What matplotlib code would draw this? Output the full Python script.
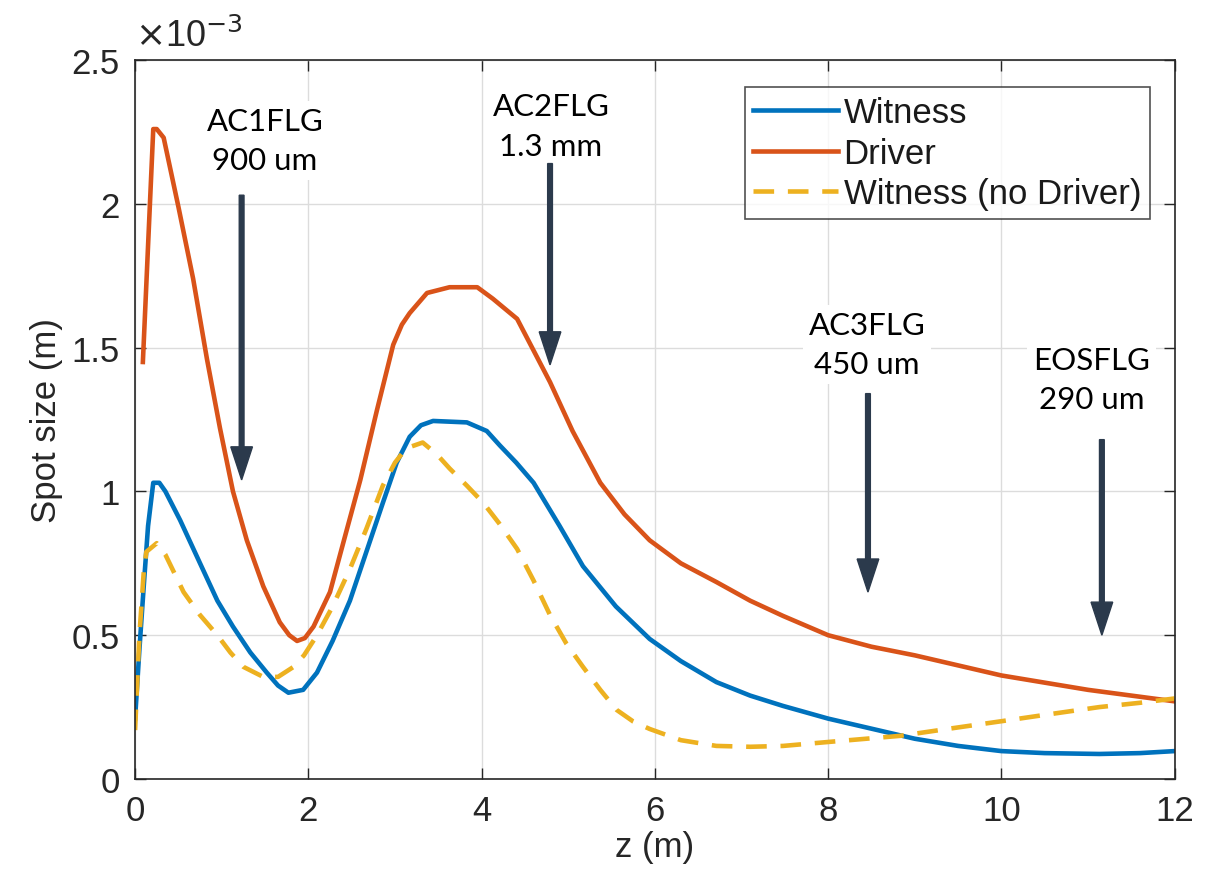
import matplotlib.pyplot as plt

# Spot size data (units of 1e-3 m)
z_witness = [0.0, 0.05, 0.1, 0.15, 0.21, 0.28, 0.35, 0.52, 0.75, 0.95, 1.13, 1.33, 1.52, 1.65, 1.77,
             1.94, 2.1, 2.28, 2.48, 2.67, 2.86, 3.02, 3.17, 3.3, 3.44, 3.83, 4.06, 4.21, 4.4, 4.6,
             4.9, 5.17, 5.55, 5.94, 6.3, 6.71, 7.1, 7.48, 8.0, 8.5, 9.0, 9.5, 10.0, 10.5, 11.13,
             11.6, 12.0]
witness = [0.21, 0.45, 0.67, 0.88, 1.03, 1.03, 1.0, 0.90, 0.75, 0.62, 0.53, 0.44, 0.37, 0.325, 0.30,
           0.31, 0.37, 0.48, 0.62, 0.79, 0.96, 1.10, 1.19, 1.23, 1.245, 1.24, 1.21, 1.16, 1.10, 1.03,
           0.88, 0.74, 0.60, 0.487, 0.41, 0.337, 0.29, 0.254, 0.21, 0.175, 0.14, 0.115, 0.097, 0.09, 0.087,
           0.09, 0.097]

z_driver = [0.09, 0.21, 0.25, 0.33, 0.5, 0.67, 0.83, 0.98, 1.13, 1.29, 1.48, 1.67, 1.78, 1.87, 1.96,
            2.06, 2.25, 2.42, 2.6, 2.79, 2.98, 3.08, 3.17, 3.37, 3.63, 3.95, 4.13, 4.41, 4.79, 5.05,
            5.37, 5.65, 5.94, 6.3, 6.71, 7.1, 7.48, 8.0, 8.5, 9.0, 9.5, 10.0, 10.5, 11.0, 11.5, 12.0]
driver = [1.45, 2.26, 2.26, 2.23, 1.99, 1.74, 1.46, 1.22, 1.0, 0.83, 0.67, 0.545, 0.50, 0.48, 0.49,
          0.53, 0.65, 0.84, 1.04, 1.28, 1.51, 1.58, 1.62, 1.69, 1.71, 1.71, 1.67, 1.60, 1.38, 1.21,
          1.03, 0.92, 0.83, 0.75, 0.685, 0.62, 0.567, 0.50, 0.46, 0.43, 0.395, 0.36, 0.335, 0.31, 0.29, 0.27]

z_nodrv = [0.0, 0.05, 0.1, 0.13, 0.25, 0.35, 0.56, 0.75, 0.95, 1.1, 1.25, 1.48, 1.65, 1.83, 1.95,
           2.1, 2.28, 2.48, 2.67, 2.86, 3.0, 3.13, 3.32, 3.48, 3.63, 3.83, 4.02, 4.2, 4.41, 4.6,
           4.79, 4.98, 5.17, 5.37, 5.56, 5.75, 5.94, 6.3, 6.71, 7.1, 7.48, 8.05, 8.83, 9.4, 9.98,
           10.55, 11.13, 11.6, 12.0]
nodrv = [0.17, 0.5, 0.72, 0.79, 0.82, 0.78, 0.65, 0.57, 0.50, 0.44, 0.39, 0.355, 0.355, 0.39, 0.43,
         0.50, 0.60, 0.73, 0.87, 1.02, 1.10, 1.15, 1.17, 1.13, 1.08, 1.02, 0.96, 0.89, 0.80, 0.69,
         0.57, 0.47, 0.39, 0.31, 0.24, 0.20, 0.174, 0.135, 0.115, 0.112, 0.115, 0.13, 0.15, 0.175, 0.20,
         0.225, 0.25, 0.265, 0.28]

# Flag screens
flag_names = ['AC1FLG\n900 um', 'AC2FLG\n1.3 mm', 'AC3FLG\n450 um', 'EOSFLG\n290 um']
flag_z = [1.23, 4.79, 8.46, 11.16]

plt.rcParams['font.family'] = ['Liberation Sans', 'DejaVu Sans']
gray = '#262626'

fig = plt.figure(figsize=(12.06, 8.95), dpi=100)
ax = fig.add_axes([0.112, 0.1285, 0.862, 0.8033])

ax.plot(z_witness, witness, color='#0072BD', lw=3.3, label='Witness')
ax.plot(z_driver, driver, color='#D95319', lw=3.3, label='Driver')
ax.plot(z_nodrv, nodrv, color='#EDB120', lw=3.3, dashes=(4.5, 3), label='Witness (no Driver)')

ax.set_xlim(0, 12)
ax.set_ylim(0, 2.5)
ax.set_xticks(range(0, 13, 2))
ax.set_yticks([0, 0.5, 1, 1.5, 2, 2.5])
ax.set_yticklabels(['0', '0.5', '1', '1.5', '2', '2.5'])
ax.grid(True, color='#dcdcdc', lw=1)
ax.set_axisbelow(True)
ax.tick_params(direction='in', length=8, width=1, top=True, right=True,
               labelsize=25, colors=gray, labelcolor=gray, pad=11)
for s in ax.spines.values():
    s.set_color(gray)
    s.set_linewidth(1.2)

ax.set_xlabel('z (m)', fontsize=25, color=gray, labelpad=2)
ax.set_ylabel('Spot size (m)', fontsize=25, color=gray, labelpad=6)
ax.text(0.0, 1.008, r'$\times$10$^{\mathsf{-3}}$', transform=ax.transAxes,
        fontsize=26, color=gray, ha='left', va='bottom')

# arrows and flag labels
text_y = [2.22, 2.27, 1.51, 1.39]
text_z = [1.50, 4.80, 8.45, 11.04]
arrow_top = [2.03, 2.14, 1.34, 1.18]
arrow_tip = [1.04, 1.44, 0.65, 0.50]
for name, zf, tz, ty, top, tip in zip(flag_names, flag_z, text_z, text_y, arrow_top, arrow_tip):
    ax.arrow(zf, top, 0, tip - top, width=0.055, head_width=0.25, head_length=0.115,
             length_includes_head=True, color='#2b3a4c', zorder=5)
    ax.text(tz, ty, name, fontsize=22.5, family=['Lato', 'DejaVu Sans'], ha='center', va='center',
            linespacing=1.5, color='black', zorder=4,
            bbox=dict(facecolor='white', edgecolor='none', pad=4))

leg = ax.legend(loc='upper right', bbox_to_anchor=(0.976, 0.962), fontsize=25, frameon=True,
                fancybox=False, edgecolor='#262626', handlelength=2.45, handletextpad=0.15,
                labelspacing=0.22, borderpad=0.25, borderaxespad=0)
leg.get_frame().set_linewidth(1.2)
for t in leg.get_texts():
    t.set_color('#1a1a1a')

fig.savefig('out.png', dpi=100, facecolor='white')
